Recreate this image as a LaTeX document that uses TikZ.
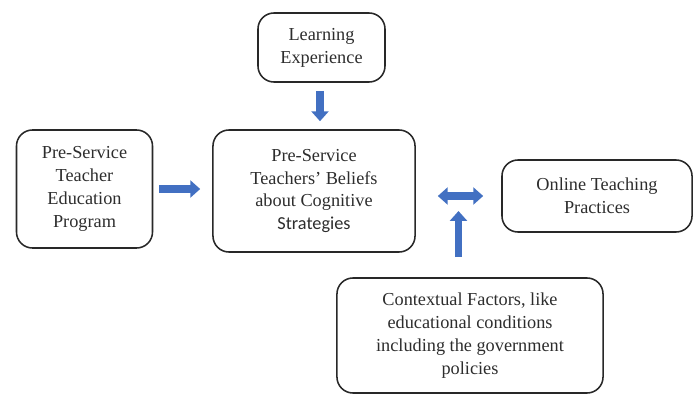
\documentclass[tikz,border=0pt]{standalone}
\usepackage{fontspec}
\setmainfont{Liberation Serif}
\newfontfamily\calibrifont{Carlito}
\usepackage{tikz}
\usetikzlibrary{arrows.meta,positioning,calc}
\definecolor{arrowblue}{RGB}{66,112,194}
\definecolor{boxline}{RGB}{40,40,40}
\definecolor{txtgray}{RGB}{45,45,45}

\begin{document}
\begin{tikzpicture}[x=0.025cm, y=-0.025cm,
    box/.style={draw=boxline, line width=1.1pt, rounded corners=4mm, align=center,
        text=txtgray, font=\fontsize{13}{16.3}\selectfont, inner sep=0pt},
    blockarr/.style={arrowblue, line width=5.5pt, -{Triangle[length=7pt, width=12pt]}},
    dblarr/.style={arrowblue, line width=5.5pt, {Triangle[length=7pt, width=12pt]}-{Triangle[length=7pt, width=12pt]}}
]
\useasboundingbox (0,0) rectangle (699,395);

% Boxes
\node[box, minimum width=3.175cm, minimum height=1.725cm] (learn) at (321.5, 47.5) {Learning\\Experience};
\node[box, minimum width=3.4cm, minimum height=2.95cm] (prog) at (84.5, 189) {Pre-Service\\Teacher\\Education\\Program};
\node[box, minimum width=5.05cm, minimum height=3.05cm] (belief) at (314, 191) {Pre-Service\\Teachers' Beliefs\\about Cognitive\\{\calibrifont Strategies}};
\node[box, minimum width=4.75cm, minimum height=1.8cm] (online) at (597, 196) {Online Teaching\\Practices};
\node[box, minimum width=6.65cm, minimum height=2.875cm] (context) at (470, 335.5) {Contextual Factors, like\\educational conditions\\including the government\\policies};

\coordinate (link) at ($(belief.east |- online.west)!0.5!(online.west)$);

% Arrows
\draw[blockarr, shorten <=2mm, shorten >=2mm] (learn.south -| 320,0) -- (belief.north -| 320,0);
\draw[blockarr, shorten <=1.5mm, shorten >=3mm] (prog.east) -- (belief.west |- prog.east);
\draw[dblarr, shorten <=5.5mm, shorten >=4.5mm] (belief.east |- online.west) -- (online.west);
\draw[blockarr, shorten <=5mm, shorten >=3.75mm] (context.north -| link) -- (link);
\end{tikzpicture}
\end{document}
